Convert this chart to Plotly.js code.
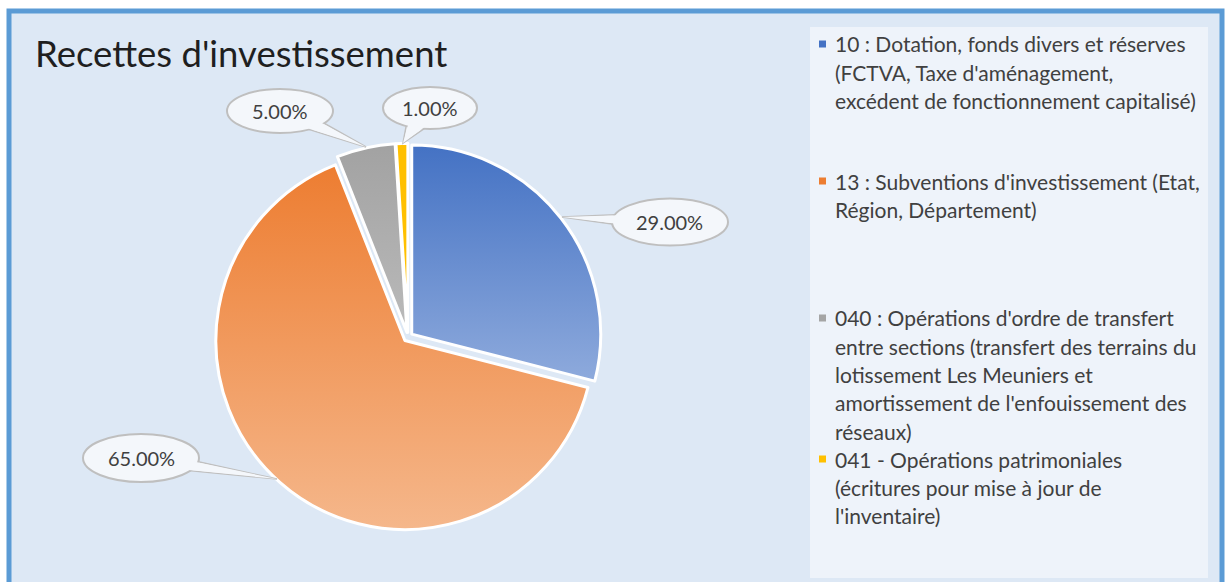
<!DOCTYPE html>
<html>
<head>
<meta charset="utf-8">
<script src="https://cdn.plot.ly/plotly-3.0.1.min.js"></script>
<style>html,body{margin:0;padding:0;background:#fff;}#chart{width:1232px;height:582px;}</style>
</head>
<body>
<div id="chart"></div>
<script>
// ---- data ----
var chartTitle = "Recettes d'investissement";
var categories = [
  "10 : Dotation, fonds divers et réserves (FCTVA, Taxe d'aménagement, excédent de fonctionnement capitalisé)",
  "13 : Subventions d'investissement (Etat, Région, Département)",
  "040 : Opérations d'ordre de transfert entre sections (transfert des terrains du lotissement Les Meuniers et amortissement de l'enfouissement des réseaux)",
  "041 - Opérations patrimoniales (écritures pour mise à jour de l'inventaire)"
];
var legendLines = [
  ["10 : Dotation, fonds divers et réserves", "(FCTVA, Taxe d'aménagement,", "excédent de fonctionnement capitalisé)"],
  ["13 : Subventions d'investissement (Etat,", "Région, Département)"],
  ["040 : Opérations d'ordre de transfert", "entre sections (transfert des terrains du", "lotissement Les Meuniers et", "amortissement de l'enfouissement des", "réseaux)"],
  ["041 - Opérations patrimoniales", "(écritures pour mise à jour de", "l'inventaire)"]
];
var shares = [29, 65, 5, 1];

// ---- styles / layout ----
var W = 1232, H = 582;
function px(x){ return x / W; }
function py(y){ return 1 - y / H; }
var sliceColors = ["#6a8fd4", "#f19a60", "#acacac", "#ffc000"];
var legendColors = ["#4472c4", "#ed7d31", "#a5a5a5", "#ffc000"];
var gradients = [
  ["#4472c4", "#8eaadc"],
  ["#ed7d31", "#f5b78b"],
  ["#a2a2a2", "#bababa"],
  ["#ffc000", "#ffc000"]
];
var FONT = "Lato, 'Open Sans', sans-serif";
var textColor = "#404040";

// pie geometry (pixels)
var cx = 408, cy = 337, R = 189, pull = 0.025;
var half = R * (1 + pull);

// callouts: ellipse center, radii, pointer tip (pixels)
var callouts = [
  {cx: 670, cy: 222, rx: 58, ry: 23.5, tx: 562, ty: 217},
  {cx: 141, cy: 458, rx: 58, ry: 24, tx: 277, ty: 479},
  {cx: 280, cy: 111, rx: 53, ry: 22, tx: 366, ty: 147},
  {cx: 430, cy: 108, rx: 47, ry: 21, tx: 403, ty: 143}
];

var shapes = [];
var annotations = [];

// outer frame
shapes.push({type: "rect", xref: "paper", yref: "paper", layer: "below",
  x0: px(9), x1: px(1222), y0: py(640), y1: py(11),
  fillcolor: "#dde8f5", line: {color: "#5b9bd5", width: 5}});
// legend panel
shapes.push({type: "rect", xref: "paper", yref: "paper", layer: "below",
  x0: px(810), x1: px(1208), y0: py(578), y1: py(27),
  fillcolor: "#eef3fa", line: {width: 0}});

function wedgePath(c, shrink){
  var dx = (c.tx - c.cx) / c.rx, dy = (c.ty - c.cy) / c.ry;
  var phi = Math.atan2(dy, dx);
  var d = 0.2;
  var s = shrink || 1;
  var b1x = c.cx + s * c.rx * Math.cos(phi - d), b1y = c.cy + s * c.ry * Math.sin(phi - d);
  var b2x = c.cx + s * c.rx * Math.cos(phi + d), b2y = c.cy + s * c.ry * Math.sin(phi + d);
  return "M" + px(b1x) + "," + py(b1y) + " L" + px(c.tx) + "," + py(c.ty) + " L" + px(b2x) + "," + py(b2y) + " Z";
}

callouts.forEach(function(c, i){
  shapes.push({type: "path", xref: "paper", yref: "paper", layer: "above",
    path: wedgePath(c), fillcolor: "#f4f7fb", line: {color: "#bfbfbf", width: 1.5}});
  shapes.push({type: "circle", xref: "paper", yref: "paper", layer: "above",
    x0: px(c.cx - c.rx), x1: px(c.cx + c.rx), y0: py(c.cy + c.ry), y1: py(c.cy - c.ry),
    fillcolor: "#f4f7fb", line: {color: "#bfbfbf", width: 2}});
  shapes.push({type: "path", xref: "paper", yref: "paper", layer: "above",
    path: wedgePath(c, 0.92), fillcolor: "#f4f7fb", line: {width: 0}});
  annotations.push({xref: "paper", yref: "paper", x: px(c.cx), y: py(c.cy),
    xanchor: "center", yanchor: "middle", showarrow: false,
    text: shares[i].toFixed(2) + "%", font: {family: FONT, size: 20, color: textColor}});
});

// legend (drawn as text lines + square markers)
var legendStartY = [44, 181, 318, 459];
var lineH = 28.3;
legendLines.forEach(function(lines, i){
  var y0 = legendStartY[i];
  shapes.push({type: "rect", xref: "paper", yref: "paper", layer: "above",
    x0: px(819), x1: px(826), y0: py(y0 + 3.5), y1: py(y0 - 3.5),
    fillcolor: legendColors[i], line: {width: 0}});
  lines.forEach(function(t, k){
    annotations.push({xref: "paper", yref: "paper", x: px(833), y: py(y0 + k * lineH),
      xanchor: "left", yanchor: "middle", showarrow: false, text: t,
      font: {family: FONT, size: 21, color: textColor}});
  });
});

var trace = {
  type: "pie",
  labels: categories,
  values: shares,
  sort: false,
  direction: "clockwise",
  rotation: 0,
  pull: pull,
  textinfo: "none",
  hoverinfo: "label+percent",
  marker: {colors: sliceColors, line: {color: "#ffffff", width: 3}},
  domain: {x: [px(cx - half), px(cx + half)], y: [py(cy + half), py(cy - half)]},
  showlegend: false
};

var layout = {
  width: W, height: H,
  margin: {l: 0, r: 0, t: 0, b: 0},
  paper_bgcolor: "#ffffff",
  showlegend: false,
  title: {text: chartTitle, x: px(35), xanchor: "left", xref: "paper",
    y: py(54), yanchor: "middle", yref: "paper",
    font: {family: FONT, size: 36.5, color: "#1f1f1f"}},
  shapes: shapes,
  annotations: annotations
};

Plotly.newPlot("chart", [trace], layout, {displayModeBar: false, staticPlot: true}).then(function(gd){
  var svg = gd.querySelector("svg.main-svg");
  var ns = "http://www.w3.org/2000/svg";
  var defs = document.createElementNS(ns, "defs");
  gradients.forEach(function(g, i){
    var lg = document.createElementNS(ns, "linearGradient");
    lg.setAttribute("id", "sliceGrad" + i);
    lg.setAttribute("x1", "0"); lg.setAttribute("y1", "0");
    lg.setAttribute("x2", "0"); lg.setAttribute("y2", "1");
    [[0, g[0]], [1, g[1]]].forEach(function(s){
      var st = document.createElementNS(ns, "stop");
      st.setAttribute("offset", s[0]);
      st.setAttribute("stop-color", s[1]);
      lg.appendChild(st);
    });
    defs.appendChild(lg);
  });
  svg.insertBefore(defs, svg.firstChild);
  var paths = gd.querySelectorAll(".pielayer .slice path.surface");
  paths.forEach(function(p, i){ p.style.fill = "url(#sliceGrad" + i + ")"; });
});
</script>
</body>
</html>
